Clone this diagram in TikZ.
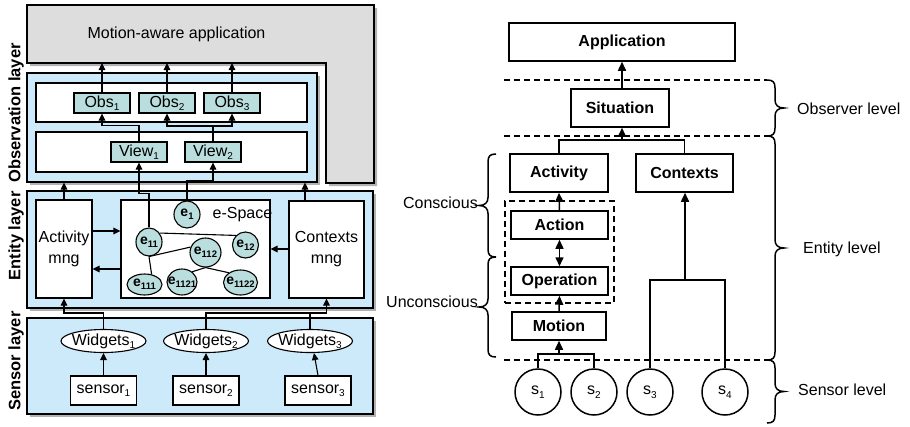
\documentclass[tikz,border=0pt]{standalone}
\usepackage{fontspec}
\setmainfont{Liberation Sans}
\usetikzlibrary{arrows.meta,shapes.geometric,shadows}
\definecolor{layerblue}{RGB}{204,234,250}
\definecolor{tealfill}{RGB}{186,222,222}
\definecolor{appgray}{RGB}{221,221,221}
\newcommand\ssub[1]{\raisebox{-3.5pt}{\fontsize{10}{10}\selectfont #1}}
\newcommand\esub[1]{\raisebox{-3pt}{\fontsize{9.5}{10}\selectfont\bfseries #1}}
\newcommand\myrbrace[3]{%
  \draw[rln] (#1,#2) .. controls +(6,0) and +(0,-6) .. ({#1+8},{#2+8})
    -- ({#1+8},{(#2+#3)/2-8}) .. controls +(0,5) and +(-6,0) .. ({#1+17},{(#2+#3)/2})
    .. controls +(-6,0) and +(0,-5) .. ({#1+8},{(#2+#3)/2+8})
    -- ({#1+8},{#3-8}) .. controls +(0,6) and +(6,0) .. (#1,#3);}
\newcommand\mylbrace[3]{%
  \draw[rln] (#1,#2) .. controls +(-6,0) and +(0,-6) .. ({#1-8},{#2+8})
    -- ({#1-8},{(#2+#3)/2-8}) .. controls +(0,5) and +(6,0) .. ({#1-17},{(#2+#3)/2})
    .. controls +(6,0) and +(0,-5) .. ({#1-8},{(#2+#3)/2+8})
    -- ({#1-8},{#3-8}) .. controls +(0,6) and +(-6,0) .. (#1,#3);}
\begin{document}
\begin{tikzpicture}[x=1pt,y=-1pt,
  every node/.style={font=\fontsize{16}{21}\selectfont, inner sep=0pt},
  ln/.style={line width=1.1pt},
  arr/.style={ln, -{Triangle[length=7pt,width=6.5pt]}},
  rln/.style={line width=1.5pt},
  rarr/.style={rln, -{Triangle[length=9pt,width=8pt]}},
  rdarr/.style={rln, {Triangle[length=9pt,width=8pt]}-{Triangle[length=9pt,width=8pt]}},
  rdash/.style={rln, dash pattern=on 6pt off 4pt},
  shad/.style={drop shadow={shadow xshift=3pt,shadow yshift=-3pt,fill=gray!60,opacity=1}},
  layer/.style={draw, ln, fill=layerblue, shad},
  rowbox/.style={draw, ln, fill=white},
  tealbox/.style={draw, ln, fill=tealfill, minimum width=56, minimum height=20},
  ell/.style={ellipse, draw, ln, fill=tealfill},
  elbl/.style={font=\fontsize{14}{16}\selectfont\bfseries, inner sep=0pt},
  wid/.style={ellipse, draw, ln, fill=white, minimum width=85, minimum height=23},
  wlbl/.style={font=\fontsize{16}{19}\selectfont, inner sep=0pt},
  sbox/.style={draw, ln, fill=white, minimum width=66, minimum height=29},
  laylbl/.style={rotate=90, font=\fontsize{16.5}{19}\selectfont\bfseries},
  rbox/.style={draw, rln, fill=white, font=\fontsize{16}{19}\selectfont\bfseries},
  sens/.style={circle, draw, rln, fill=white, minimum size=46}
]
\useasboundingbox (0,0) rectangle (910,426);

% ---------------- left panel ----------------
\path[draw, ln, fill=appgray, shad] (27,5) -- (374,5) -- (374,183) -- (326,183) -- (326,63) -- (27,63) -- cycle;
\node (apptxt) at (176.5,34) {Motion-aware application};
\coordinate (gbot) at (0,63);

\node[layer, minimum width=290, minimum height=109] (obsL) at (172,127.5) {};
\node[rowbox, minimum width=271, minimum height=39] (obsrow) at (171.5,102.5) {};
\node[rowbox, minimum width=271, minimum height=40] (viewrow) at (171.5,152) {};
\node[tealbox] (o1) at (102,103) {Obs\ssub{1}};
\node[tealbox] (o2) at (167,103) {Obs\ssub{2}};
\node[tealbox] (o3) at (232,103) {Obs\ssub{3}};
\node[tealbox] (v1) at (139,152) {View\ssub{1}};
\node[tealbox] (v2) at (213,152) {View\ssub{2}};

\node[layer, minimum width=346, minimum height=117] (entL) at (200,249.5) {};
\node[rowbox, minimum width=56, minimum height=98, align=center] (actm) at (64,249) {Activity\\mng};
\node[rowbox, minimum width=149, minimum height=98] (esp) at (195.5,249) {};
\node (esplbl) at (242.5,215) {e-Space};
\node[rowbox, minimum width=75, minimum height=97, align=center] (ctxm) at (326.5,249.5) {Contexts\\mng};

\node[ell, minimum width=26, minimum height=27, label={[elbl]center:e\esub{1}}] (e1) at (187,214.5) {};
\node[ell, minimum width=26, minimum height=28, label={[elbl]center:e\esub{11}}] (e11) at (149,242) {};
\node[ell, minimum width=26, minimum height=26, label={[elbl]center:e\esub{12}}] (e12) at (245.5,245) {};
\node[ell, minimum width=31, minimum height=29, label={[elbl]center:e\esub{112}}] (e112) at (205.5,252.5) {};
\node[ell, minimum width=35, minimum height=21, label={[elbl]center:e\esub{111}}] (e111) at (144.5,284.5) {};
\node[ell, minimum width=30, minimum height=26, label={[elbl]center:e\esub{1121}}] (e1121) at (182,282) {};
\node[ell, minimum width=34, minimum height=25, label={[elbl]center:e\esub{1122}}] (e1122) at (240.5,282.5) {};
\draw[ln] (e11.40) -- (e12.135);
\draw[ln] (e11.south) -- (e112.160);
\draw[ln] (e11.south) -- (e111.55);
\draw[ln] (e112.south) -- (e1121.45);
\draw[ln] (e112.south) -- (e1122.140);

\node[layer, minimum width=346, minimum height=96] (sensL) at (200,366) {};
\node[wid, label={[wlbl]center:Widgets\ssub{1}}] (w1) at (103.5,341) {};
\node[wid, label={[wlbl]center:Widgets\ssub{2}}] (w2) at (206,341) {};
\node[wid, label={[wlbl]center:Widgets\ssub{3}}] (w3) at (310,341) {};
\node[sbox] (s1) at (103.5,390.5) {sensor\ssub{1}};
\node[sbox] (s2) at (206,390.5) {sensor\ssub{2}};
\node[sbox] (s3) at (318,390.5) {sensor\ssub{3}};

\node[laylbl] (lobs) at (16,113) {Observation layer};
\node[laylbl] (lent) at (16,236) {Entity layer};
\node[laylbl] (lsen) at (16,361) {Sensor layer};

% left connectors
\draw[arr] (o1.north) -- (o1.north |- gbot);
\draw[arr] (o2.north) -- (o2.north |- gbot);
\draw[arr] (o3.north) -- (o3.north |- gbot);
\draw[arr] (v1.north) -- ++(0,-16) -| (o1.south);
\coordinate (jv2) at (213,126);
\draw[ln] (v2.north) -- (jv2);
\draw[arr] (jv2) -| (o2.south);
\draw[arr] (jv2) -| (o3.south);
\draw[arr] (e11.north) -- ++(0,-34) -| (v1.south);
\draw[arr] (e1.north) -- ++(0,-19.5) -| (v2.south);
\coordinate (cx) at (305,0);
\draw[arr] (actm.north) -- (actm.north |- obsL.south);
\draw[arr] (ctxm.north -| cx) -- (obsL.south -| cx);
\coordinate (ra) at (0,231);
\coordinate (rb) at (0,269);
\coordinate (rc) at (0,249);
\draw[arr] (actm.east |- ra) -- (esp.west |- ra);
\draw[arr] (esp.west |- rb) -- (actm.east |- rb);
\draw[arr] (ctxm.west |- rc) -- (esp.east |- rc);
\coordinate (jw) at (0,313);
\draw[arr] (w1.north) -- (w1.north |- jw) -| (actm.south);
\draw[arr] (w2.north) -- (w2.north |- jw) -| (ctxm.south);
\draw[ln] (w3.north) -- (w3.north |- jw);
\draw[arr] (s1.north) -- (w1.south);
\draw[arr] (s2.north) -- (w2.south);
\draw[arr] (s3.north) -- ([xshift=4pt]w3.south);

% ---------------- right panel ----------------
\draw[rdash] (504,80) -- (767,80);
\draw[rdash] (504,136) -- (767,136);
\draw[rdash] (504,360) -- (767,360);
\myrbrace{767}{80}{136}
\myrbrace{767}{136}{360}
\myrbrace{767}{360}{423}
\mylbrace{496}{154}{257}
\mylbrace{496}{257}{357}
\node[anchor=west] (lobsv) at (797,109) {Observer level};
\node[anchor=west] (lentv) at (803,249) {Entity level};
\node[anchor=west] (lsenv) at (798,390) {Sensor level};
\node[anchor=east] (lcon) at (478,203) {Conscious};
\node[anchor=east] (lunc) at (478,302) {Unconscious};

\node[rbox, minimum width=226, minimum height=38] (app) at (622,42) {Application};
\node[rbox, minimum width=98, minimum height=38] (sit) at (620,108) {Situation};
\node[rbox, minimum width=98, minimum height=38] (activity) at (559,173) {Activity};
\node[rbox, minimum width=97, minimum height=38] (contexts) at (684.5,173) {Contexts};
\node[draw, rdash, minimum width=109, minimum height=102] (dbox) at (559.5,252) {};
\node[rbox, minimum width=97, minimum height=28] (action) at (559.5,225) {Action};
\node[rbox, minimum width=97, minimum height=28] (operation) at (559.5,281) {Operation};
\node[rbox, minimum width=94, minimum height=28] (motion) at (559,326) {Motion};
\node[sens] (c1) at (538,392) {s\ssub{1}};
\node[sens] (c2) at (594,392) {s\ssub{2}};
\node[sens] (c3) at (650,392) {s\ssub{3}};
\node[sens] (c4) at (725,392) {s\ssub{4}};

\coordinate (j1) at (622,140);
\coordinate (j2) at (559,354);
\coordinate (j3) at (685,280);
\draw[rarr] (sit.north -| j1) -- (app.south -| j1);
\draw[rln] (activity.north) -- (activity.north |- j1) -| (contexts.north);
\draw[rarr] (j1) -- (sit.south -| j1);
\draw[rarr] (action.north) -- (activity.south);
\draw[rdarr] (action.south) -- (operation.north);
\draw[rarr] (motion.north) -- (operation.south);
\draw[rln] (c1.north) -- (c1.north |- j2) -| (c2.north);
\draw[rarr] (j2) -- (motion.south);
\draw[rln] (c3.north) -- (c3.north |- j3) -| (c4.north);
\draw[rarr] (j3) -- (contexts.south -| j3);
\end{tikzpicture}
\end{document}
